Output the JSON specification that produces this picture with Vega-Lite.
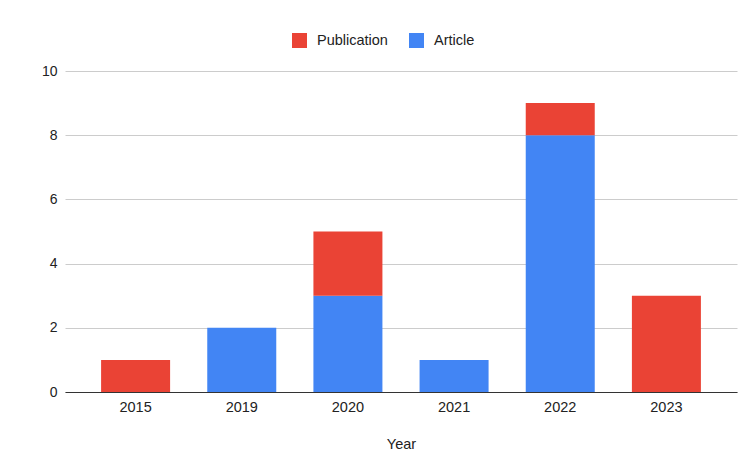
{
  "$schema": "https://vega.github.io/schema/vega-lite/v6.json",
  "autosize": "none",
  "width": 672,
  "height": 321,
  "padding": {"left": 65, "top": 71, "right": 14, "bottom": 78},
  "background": "white",
  "config": {
    "font": "Liberation Sans",
    "view": {"stroke": null}
  },
  "data": {
    "values": [
      {"year": "2015", "type": "Publication", "count": 1},
      {"year": "2019", "type": "Article", "count": 2},
      {"year": "2020", "type": "Article", "count": 3},
      {"year": "2020", "type": "Publication", "count": 2},
      {"year": "2021", "type": "Article", "count": 1},
      {"year": "2022", "type": "Article", "count": 8},
      {"year": "2022", "type": "Publication", "count": 1},
      {"year": "2023", "type": "Publication", "count": 3}
    ]
  },
  "mark": {"type": "bar"},
  "encoding": {
    "x": {
      "field": "year",
      "type": "nominal",
      "title": "Year",
      "scale": {"paddingInner": 0.35, "paddingOuter": 0.34},
      "axis": {
        "labelAngle": 0,
        "labelFontSize": 14.5,
        "labelColor": "#222222",
        "labelPadding": 8,
        "ticks": false,
        "domainColor": "#333333",
        "domainWidth": 1,
        "titleFontSize": 14.5,
        "titleFontWeight": "normal",
        "titleColor": "#222222",
        "titlePadding": 24
      }
    },
    "y": {
      "field": "count",
      "type": "quantitative",
      "title": null,
      "stack": "zero",
      "scale": {"domain": [0, 10]},
      "axis": {
        "values": [0, 2, 4, 6, 8, 10],
        "domain": false,
        "ticks": false,
        "labelFontSize": 14,
        "labelColor": "#222222",
        "labelPadding": 8,
        "gridColor": "#cccccc"
      }
    },
    "color": {
      "field": "type",
      "type": "nominal",
      "scale": {"domain": ["Publication", "Article"], "range": ["#EA4335", "#4285F4"]},
      "legend": {
        "title": null,
        "orient": "none",
        "direction": "horizontal",
        "legendX": 227,
        "legendY": -38,
        "symbolType": "square",
        "symbolSize": 225,
        "symbolStrokeWidth": 0,
        "labelFontSize": 14.5,
        "labelColor": "#222222",
        "columnPadding": 21,
        "labelOffset": 10
      }
    },
    "order": {"field": "type", "sort": "ascending"}
  }
}
